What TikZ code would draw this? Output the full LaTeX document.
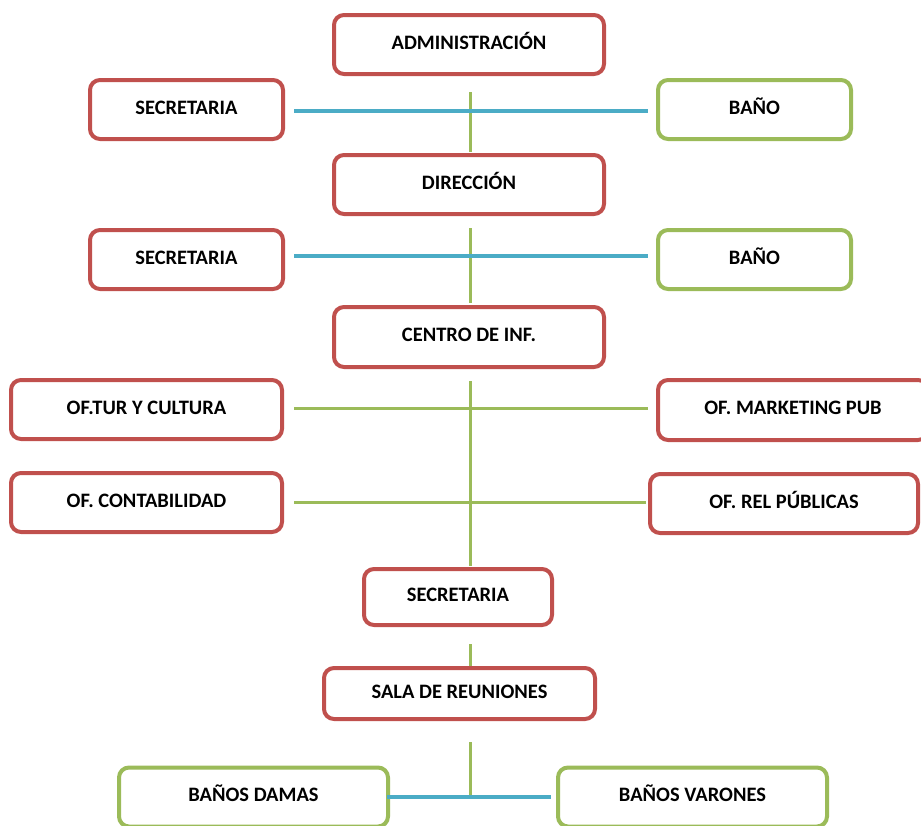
\documentclass[tikz,border=0pt]{standalone}
\usepackage{fontspec}
\setmainfont{Carlito}
\definecolor{boxred}{HTML}{C0504D}
\definecolor{boxgreen}{HTML}{9BBB59}
\definecolor{linkblue}{HTML}{4BACC6}
\tikzset{
  box/.style={draw, fill=white, line width=4pt, rounded corners=10pt,
    inner sep=0pt, align=center, text height=14pt, text depth=5pt,
    font=\fontsize{20.5}{22}\selectfont\bfseries},
  redbox/.style={box, draw=boxred},
  greenbox/.style={box, draw=boxgreen},
  trunk/.style={draw=boxgreen, line width=3pt},
  greenlink/.style={draw=boxgreen, line width=3pt},
  bluelink/.style={draw=linkblue, line width=4pt},
}
\begin{document}
\begin{tikzpicture}[x=1pt,y=1pt]
\useasboundingbox (0,0) rectangle (921,-825);
% main column
\node[redbox, minimum width=270pt, minimum height=59pt] (admin) at (469,-44.5) {ADMINISTRACIÓN};
\node[redbox, minimum width=270pt, minimum height=59pt] (dir) at (469,-184.5) {DIRECCIÓN};
\node[redbox, minimum width=270pt, minimum height=60pt] (centro) at (469,-337) {CENTRO DE INF.};
\node[redbox, minimum width=188pt, minimum height=56pt] (sec3) at (458,-597) {SECRETARIA};
\node[redbox, minimum width=271pt, minimum height=51pt] (sala) at (459.5,-693.5) {SALA DE REUNIONES};
% side offices
\node[redbox, minimum width=193pt, minimum height=59pt] (sec1) at (186.5,-109.5) {SECRETARIA};
\node[greenbox, minimum width=193pt, minimum height=59pt] (bano1) at (754.5,-109.5) {BAÑO};
\node[redbox, minimum width=193pt, minimum height=59pt] (sec2) at (186.5,-259.5) {SECRETARIA};
\node[greenbox, minimum width=193pt, minimum height=59pt] (bano2) at (754.5,-259.5) {BAÑO};
\node[redbox, minimum width=271pt, minimum height=59pt] (tur) at (146.5,-409.5) {OF.TUR Y CULTURA};
\node[redbox, minimum width=270pt, minimum height=60pt] (mkt) at (793,-410) {OF. MARKETING PUB};
\node[redbox, minimum width=271pt, minimum height=59pt] (cont) at (146.5,-502.5) {OF. CONTABILIDAD};
\node[redbox, minimum width=268pt, minimum height=59pt] (rel) at (784,-503.5) {OF. REL PÚBLICAS};
\node[greenbox, minimum width=269pt, minimum height=59pt] (damas) at (253.5,-797) {BAÑOS DAMAS};
\node[greenbox, minimum width=269pt, minimum height=59pt] (varones) at (692.5,-797) {BAÑOS VARONES};
% vertical trunk
\draw[trunk, shorten <=16pt, shorten >=1pt] ([xshift=1pt]admin.south) -- ([xshift=1pt]dir.north);
\draw[trunk, shorten <=12pt, shorten >=2pt] ([xshift=1pt]dir.south) -- ([xshift=1pt]centro.north);
\draw[trunk, shorten <=12pt, shorten >=1pt] ([xshift=1pt]centro.south) -- ([xshift=1pt]centro.south |- sec3.north);
\draw[trunk, shorten <=17pt] ([xshift=1pt]centro.south |- sec3.south) -- ([xshift=1pt]centro.south |- sala.north);
\draw[trunk, shorten <=21pt] ([xshift=1pt]centro.south |- sala.south) -- ([xshift=1pt]centro.south |- damas.east);
% branches
\draw[bluelink, shorten <=9pt, shorten >=8pt] ([yshift=-1.5pt]sec1.east) -- ([yshift=-1.5pt]bano1.west);
\draw[bluelink, shorten <=9pt, shorten >=8pt] ([yshift=3.5pt]sec2.east) -- ([yshift=3.5pt]bano2.west);
\draw[greenlink, shorten <=10pt, shorten >=8pt] ([yshift=1.5pt]tur.east) -- ([yshift=1.5pt]tur.east -| mkt.west);
\draw[greenlink, shorten <=10pt, shorten >=2pt] (cont.east) -- (cont.east -| rel.west);
\draw[bluelink, shorten <=-3pt, shorten >=5pt] (damas.east) -- (varones.west);
\end{tikzpicture}
\end{document}
